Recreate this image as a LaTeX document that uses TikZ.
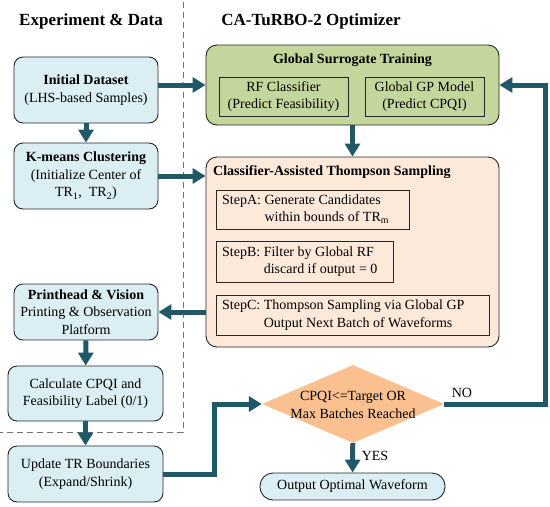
\documentclass[tikz,border=0pt]{standalone}
\usepackage{fontspec}
\setmainfont{Liberation Serif}
\usetikzlibrary{arrows.meta,shapes.geometric,calc}
\definecolor{bluefill}{HTML}{DAEEF3}
\definecolor{greenfill}{HTML}{C3D69B}
\definecolor{peachfill}{HTML}{FDE9D9}
\definecolor{orangefill}{HTML}{FAC090}
\definecolor{arrowcol}{HTML}{215867}
\begin{document}
\begin{tikzpicture}[x=1pt,y=-1pt,
  every node/.style={font=\fontsize{14}{17.5}\selectfont, inner sep=0pt, align=center},
  bluebox/.style={draw=black!85, line width=0.9pt, fill=bluefill, rounded corners=9pt},
  greenbox/.style={draw=black!85, line width=0.9pt, fill=greenfill, rounded corners=11pt},
  peachbox/.style={draw=black!85, line width=0.9pt, fill=peachfill, rounded corners=11pt},
  innerbox/.style={draw=black!85, line width=0.9pt},
  decision/.style={diamond, draw=none, fill=orangefill},
  sectitle/.style={font=\fontsize{17}{20}\selectfont\bfseries},
  flow/.style={draw=arrowcol, line width=5pt, -{Triangle[length=13pt,width=15pt]}},
  sep/.style={draw=black!55, line width=0.8pt, dash pattern=on 6pt off 4pt},
  steptext/.style={anchor=west, align=left},
]
\useasboundingbox (0,0) rectangle (550,507);

% separators
\draw[sep] (183,2) -- (183,432) -- (0,432);

% section titles
\node[sectitle] (t1) at (91,21) {Experiment \& Data};
\node[sectitle] (t2) at (311,21) {CA-TuRBO-2 Optimizer};

% left column
\node[bluebox, minimum width=144pt, minimum height=66pt] (init) at (86,90)
  {\textbf{Initial Dataset}\\(LHS-based Samples)};
\node[bluebox, minimum width=144pt, minimum height=66pt] (kmeans) at (86,176)
  {\textbf{K-means Clustering}\\(Initialize Center of\\TR\textsubscript{1},\ \ TR\textsubscript{2})};
\node[bluebox, minimum width=144pt, minimum height=56pt] (print) at (86,312)
  {\textbf{Printhead \& Vision}\\Printing \& Observation\\Platform};
\node[bluebox, minimum width=155pt, minimum height=55pt] (calc) at (85.5,393.5)
  {Calculate CPQI and\\Feasibility Label (0/1)};
\node[bluebox, minimum width=155pt, minimum height=56pt] (update) at (85.5,474)
  {Update TR Boundaries\\(Expand/Shrink)};

% global surrogate
\node[greenbox, minimum width=293pt, minimum height=80pt] (glob) at (352.5,85) {};
\node[font=\fontsize{14}{17.5}\selectfont\bfseries] (globt) at (352.5,60) {Global Surrogate Training};
\node[innerbox, minimum width=129pt, minimum height=39pt] (rf) at (283.5,96.5)
  {RF Classifier\\(Predict Feasibility)};
\node[innerbox, minimum width=119pt, minimum height=39pt] (gp) at (424.5,96.5)
  {Global GP Model\\(Predict CPQI)};

% classifier-assisted TS
\node[peachbox, minimum width=293pt, minimum height=190pt] (cats) at (352.5,252) {};
\node[font=\fontsize{14}{17.5}\selectfont\bfseries, anchor=west] (catst) at (213,172)
  {Classifier-Assisted Thompson Sampling};
\node[innerbox, minimum width=193pt, minimum height=39pt] (stepA) at (312.5,209.5) {};
\node[steptext] (stepAt) at (222,209.5)
  {\begin{tabular}{@{}l@{\ }l@{}}StepA: & Generate Candidates\\ & within bounds of TR\textsubscript{m}\end{tabular}};
\node[innerbox, minimum width=177pt, minimum height=41pt] (stepB) at (304.5,261.5) {};
\node[steptext] (stepBt) at (222,261.5)
  {\begin{tabular}{@{}l@{\ }l@{}}StepB: & Filter by Global RF\\ & discard if output = 0\end{tabular}};
\node[innerbox, minimum width=273pt, minimum height=40pt] (stepC) at (352.5,315) {};
\node[steptext] (stepCt) at (222,315)
  {\begin{tabular}{@{}l@{\ }l@{}}StepC: & Thompson Sampling via Global GP\\ & Output Next Batch of Waveforms\end{tabular}};

% decision
\node[decision, minimum width=182pt, minimum height=78pt] (dia) at (353,404) {};
\node (diat) at (353,405) {CPQI<=Target OR\\Max Batches Reached};

% output
\node[bluebox, rounded corners=13pt, minimum width=185pt, minimum height=27pt] (out) at (352.5,486.5)
  {Output Optimal Waveform};

% connectors
\draw[flow] (init) -- (kmeans);
\draw[flow] (glob.west -| init.east) -- (glob.west);
\draw[flow] (kmeans.east) -- (kmeans.east -| cats.west);
\draw[flow] (glob) -- (cats);
\draw[flow] (print.east -| cats.west) -- (print.east);
\draw[flow] (print) -- (calc);
\draw[flow] (calc) -- (update);
\draw[flow] (update.east) -- ++(51,0) |- (dia.west);
\draw[flow] (dia.east) -- ++(101,0) |- (glob.east);
\draw[flow] (dia) -- (out);

% labels
\node (no) at (462,393) {NO};
\node (yes) at (375,456) {YES};
\end{tikzpicture}
\end{document}
